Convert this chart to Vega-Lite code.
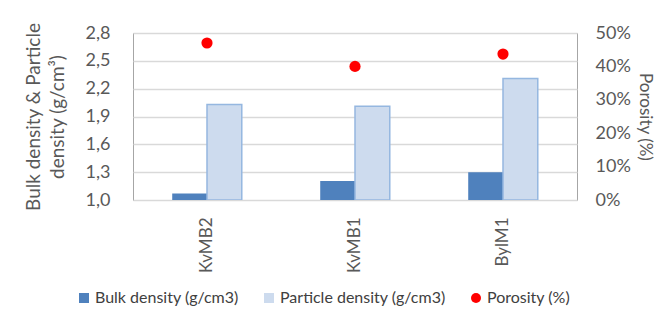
{
  "$schema": "https://vega.github.io/schema/vega-lite/v6.json",
  "autosize": {"type": "none"},
  "width": 444,
  "height": 167,
  "padding": {"left": 133, "top": 33, "right": 80, "bottom": 134},
  "background": "white",
  "config": {
    "font": "Lato",
    "view": {"stroke": "#a6a6a6", "strokeWidth": 1},
    "axis": {"labelFont": "Lato", "titleFont": "Lato", "labelColor": "#595959", "titleColor": "#595959", "titleFontWeight": "normal", "labelFontSize": 17, "titleFontSize": 19},
    "legend": {"labelFont": "Lato", "labelFontSize": 16, "labelColor": "#404040"}
  },
  "data": {
    "values": [
      {"sample": "KvMB2", "series": "Bulk density (g/cm3)", "value": 1.07},
      {"sample": "KvMB2", "series": "Particle density (g/cm3)", "value": 2.03},
      {"sample": "KvMB2", "series": "Porosity (%)", "value": 0.47},
      {"sample": "KvMB1", "series": "Bulk density (g/cm3)", "value": 1.205},
      {"sample": "KvMB1", "series": "Particle density (g/cm3)", "value": 2.01},
      {"sample": "KvMB1", "series": "Porosity (%)", "value": 0.40},
      {"sample": "BylM1", "series": "Bulk density (g/cm3)", "value": 1.30},
      {"sample": "BylM1", "series": "Particle density (g/cm3)", "value": 2.31},
      {"sample": "BylM1", "series": "Porosity (%)", "value": 0.437}
    ]
  },
  "encoding": {
    "x": {
      "field": "sample", "type": "nominal", "sort": ["KvMB2", "KvMB1", "BylM1"],
      "scale": {"paddingInner": 0.53, "paddingOuter": 0.265},
      "axis": {"title": null, "labelAngle": -90, "labelAlign": "right", "labelBaseline": "middle", "ticks": false, "labelPadding": 17, "domain": false, "labelFontSize": 17}
    }
  },
  "layer": [
    {
      "transform": [{"filter": "datum.series !== 'Porosity (%)'"}],
      "mark": {"type": "bar", "clip": true},
      "encoding": {
        "xOffset": {"field": "series", "type": "nominal", "sort": ["Bulk density (g/cm3)", "Particle density (g/cm3)"], "scale": {"paddingInner": 0, "paddingOuter": 0}},
        "y": {
          "field": "value", "type": "quantitative",
          "scale": {"domain": [1.0, 2.8], "nice": false, "zero": false},
          "axis": {
            "title": ["Bulk density & Particle", "density (g/cm³)"],
            "titleLineHeight": 24,
            "values": [1.0, 1.3, 1.6, 1.9, 2.2, 2.5, 2.8],
            "labelExpr": "replace(format(datum.value, '.1f'), '.', ',')",
            "ticks": false, "domain": false, "labelPadding": 23, "titlePadding": 18, "labelFontSize": 18,
            "gridColor": "#d9d9d9", "gridWidth": 1.5
          }
        },
        "y2": {"datum": 1.0},
        "color": {
          "field": "series", "type": "nominal",
          "scale": {"domain": ["Bulk density (g/cm3)", "Particle density (g/cm3)", "Porosity (%)"], "range": ["#4f81bd", "#cddbee", "#ff0000"]},
          "legend": {"title": null, "orient": "none", "legendX": -57, "legendY": 257, "direction": "horizontal", "columns": 3, "columnPadding": 22, "symbolSize": 100, "symbolStrokeWidth": 0, "labelOffset": 3, "labelLimit": 0}
        },
        "stroke": {"condition": {"test": "datum.series === 'Particle density (g/cm3)'", "value": "#95b7e0"}, "value": null},
        "strokeWidth": {"value": 1.5}
      }
    },
    {
      "transform": [{"filter": "datum.series === 'Porosity (%)'"}],
      "mark": {"type": "point", "filled": true, "size": 125, "opacity": 1},
      "encoding": {
        "y": {
          "field": "value", "type": "quantitative",
          "scale": {"domain": [0, 0.5], "nice": false},
          "axis": {"orient": "right", "title": "Porosity (%)", "format": ".0%", "values": [0, 0.1, 0.2, 0.3, 0.4, 0.5], "ticks": false, "domain": false, "grid": false, "labelPadding": 18, "titlePadding": 5, "titleFontSize": 17, "labelFontSize": 18}
        },
        "color": {"field": "series", "type": "nominal"},
        "shape": {"field": "series", "type": "nominal", "scale": {"domain": ["Bulk density (g/cm3)", "Particle density (g/cm3)", "Porosity (%)"], "range": ["square", "square", "circle"]}}
      }
    }
  ],
  "resolve": {"scale": {"y": "independent"}}
}
